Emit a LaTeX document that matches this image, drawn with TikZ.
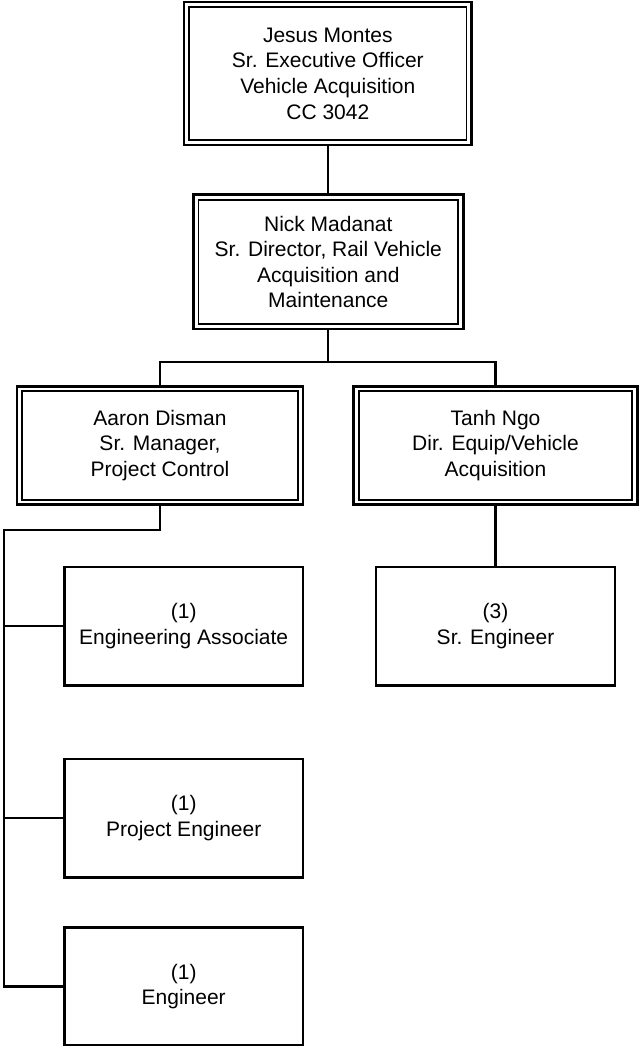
\documentclass[tikz,border=0pt]{standalone}
\usepackage{fontspec}
\setmainfont{Liberation Sans}
\begin{document}
\begin{tikzpicture}[x=1pt,y=-1pt,
  txt/.style={align=center, font=\fontsize{21}{25.6}\selectfont, inner sep=0pt, outer sep=0pt},
  dbox/.style={txt, draw, line width=2.7pt, rectangle},
  sbox/.style={txt, draw, line width=2.6pt, rectangle, minimum width=238.5pt, minimum height=118.4pt},
  innerline/.style={line width=1.8pt},
  link/.style={line width=2.2pt}]
\useasboundingbox (0,0) rectangle (638,1046);

% double-bordered boxes
\node[dbox, minimum width=287.7pt, minimum height=143pt] (top) at (327.8,73.5)
  {Jesus Montes\\Sr. Executive Officer\\Vehicle Acquisition\\CC 3042};
\node[dbox, minimum width=270pt, minimum height=134.3pt] (nick) at (328.3,261.9)
  {Nick Madanat\\Sr. Director, Rail Vehicle\\Acquisition and\\Maintenance};
\node[dbox, minimum width=286pt, minimum height=118.4pt] (aaron) at (160,445.5)
  {Aaron Disman\\Sr. Manager,\\Project Control};
\node[dbox, minimum width=284pt, minimum height=118.4pt] (tanh) at (495.5,445.5)
  {Tanh Ngo\\Dir. Equip/Vehicle\\Acquisition};

\foreach \n in {top,nick,aaron,tanh}
  \draw[innerline] ([shift={(5.2pt,-5pt)}]\n.north west) rectangle ([shift={(-5.2pt,5pt)}]\n.south east);

% single boxes
\node[sbox] (ea) at (183.7,626) {(1)\\Engineering Associate};
\node[sbox] (pe) at (183.7,818) {(1)\\Project Engineer};
\node[sbox] (eng) at (183.7,986.5) {(1)\\Engineer};
\node[sbox, minimum width=239.3pt] (sr) at (495.5,626) {(3)\\Sr. Engineer};

% connectors
\coordinate (bus) at (160,361.7);
\coordinate (trunk) at (3.8,530);
\draw[link] (top.south) -- (top.south |- nick.north);
\draw[link] (nick.south) -- (nick.south |- bus);
\draw[link] (aaron.north) -- (bus) -| (tanh.north);
\draw[link] (tanh.south) -- (sr.north);
\draw[link] (aaron.south) |- (trunk) |- (eng.west);
\draw[link] (trunk |- ea.west) -- (ea.west);
\draw[link] (trunk |- pe.west) -- (pe.west);
\end{tikzpicture}
\end{document}
